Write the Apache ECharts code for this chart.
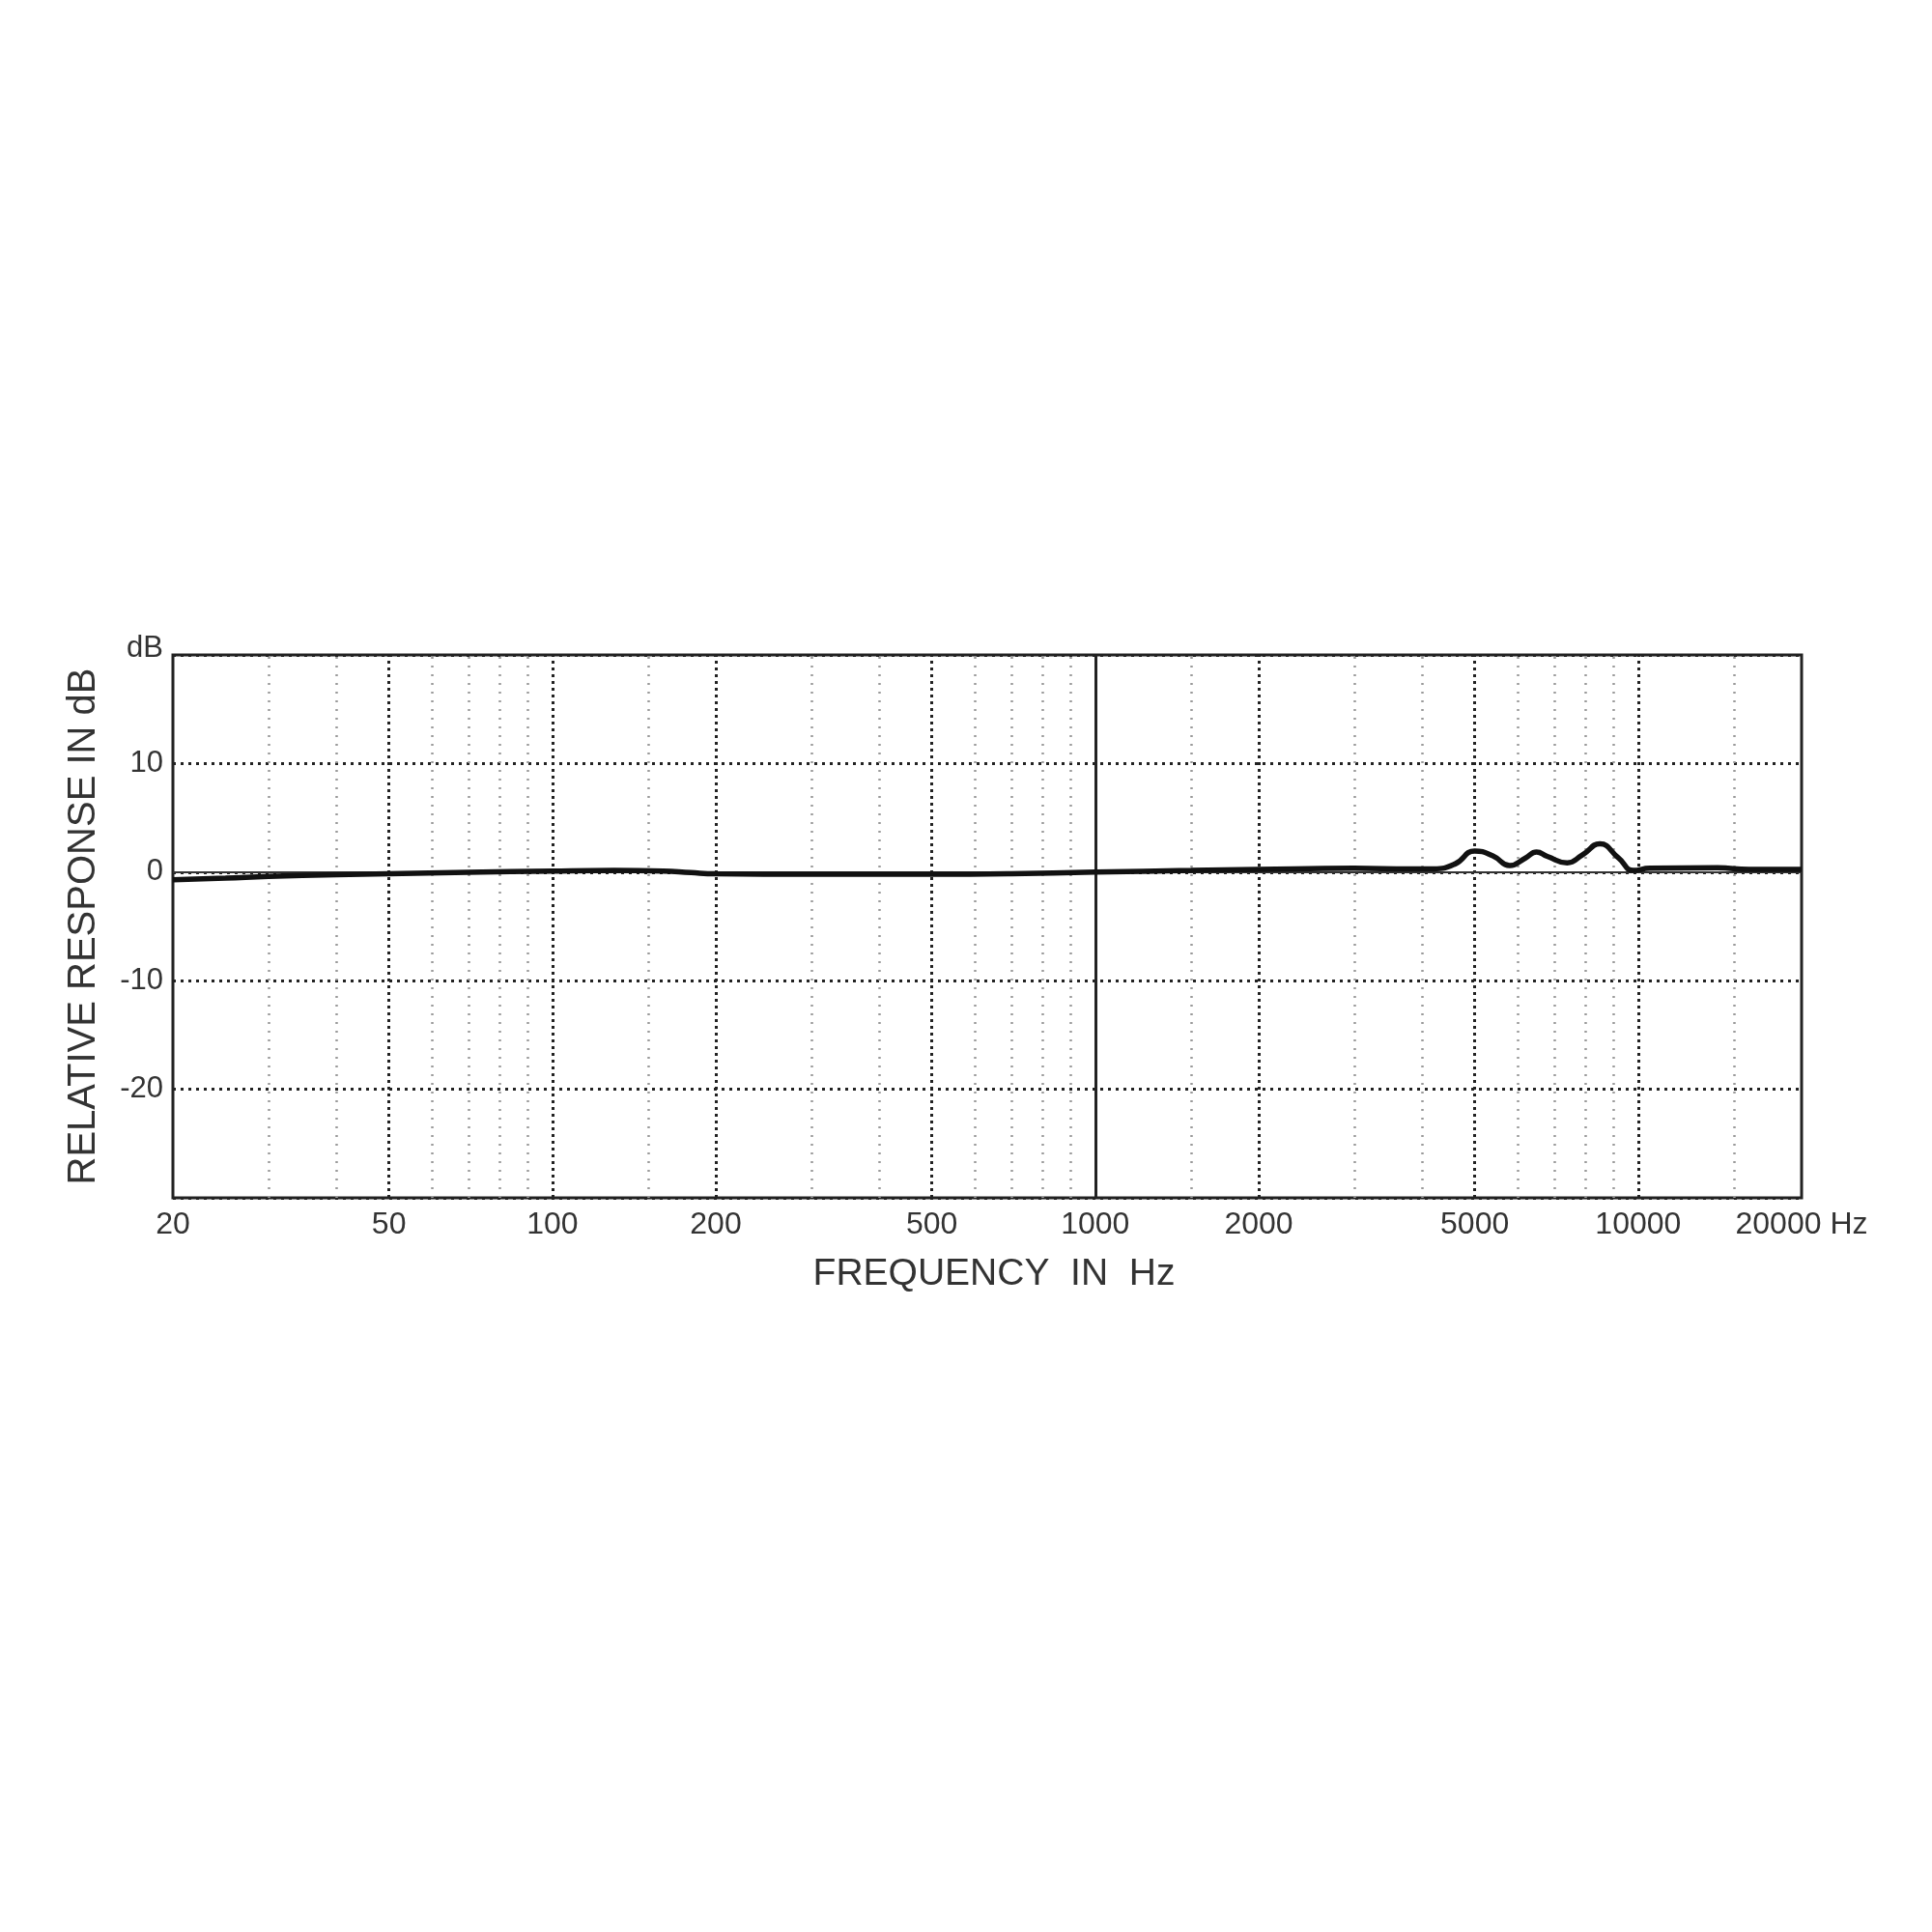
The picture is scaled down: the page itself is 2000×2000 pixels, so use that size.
<!DOCTYPE html>
<html>
<head>
<meta charset="utf-8">
<script src="https://cdn.jsdelivr.net/npm/echarts@6/dist/echarts.min.js"></script>
<style>
  html, body { margin: 0; padding: 0; background: #fff; }
  #chart { width: 2000px; height: 2000px; }
</style>
</head>
<body>
<div id="chart"></div>
<script>
// frequency response
var freqHz = [20, 25, 30, 40, 50, 70, 100, 130, 160, 180, 200, 300, 500, 700, 1000,
    1500, 2000, 3000, 3800, 4200, 4600, 5000, 5400, 5800, 6200, 6500, 6800, 7400,
    7900, 8500, 9200, 9800, 10500, 14000, 16000, 20000];
var responseDb = [-0.7, -0.55, -0.4, -0.25, -0.15, -0.02, 0.1, 0.15, 0.1, -0.05, -0.15, -0.2, -0.2, -0.15, 0,
    0.15, 0.25, 0.35, 0.3, 0.3, 0.75, 1.95, 1.5, 0.6, 1.3, 1.85, 1.45, 0.85,
    1.6, 2.6, 1.3, 0.15, 0.35, 0.4, 0.25, 0.25];

var freqLabels = [20, 50, 100, 200, 500, 1000, 2000, 5000, 10000, 20000];
var majorGrid = [50, 100, 200, 500, 2000, 5000, 10000];
var minorGrid = [30, 40, 60, 70, 80, 90, 150, 300, 400, 600, 700, 800, 900,
    1500, 3000, 4000, 6000, 7000, 8000, 9000, 15000];
var solidGrid = [1000];

var font = 'Liberation Sans';

var gridLines = [];
minorGrid.forEach(function (f) {
    gridLines.push({ xAxis: f, lineStyle: { color: '#9a9a9a', width: 2.5, type: [2, 7] } });
});
majorGrid.forEach(function (f) {
    gridLines.push({ xAxis: f, lineStyle: { color: '#222', width: 3, type: [3, 4] } });
});
solidGrid.forEach(function (f) {
    gridLines.push({ xAxis: f, lineStyle: { color: '#222', width: 3, type: 'solid' } });
});
gridLines.push({ yAxis: 0, lineStyle: { color: '#333', width: 2, type: 'solid' } });

var chart = echarts.init(document.getElementById('chart'));
chart.setOption({
    backgroundColor: '#fff',
    animation: false,
    grid: {
        left: 179, right: 135, top: 678, bottom: 760,
        show: true, borderColor: '#222', borderWidth: 3, backgroundColor: 'transparent'
    },
    xAxis: {
        type: 'log', logBase: 10, min: 20, max: 20000,
        name: 'FREQUENCY  IN  Hz', nameLocation: 'middle', nameGap: 60,
        nameTextStyle: { fontFamily: font, fontSize: 39, color: '#333', padding: [0, 0, 0, 14] },
        axisLine: { show: false },
        axisTick: { show: false },
        splitLine: { show: false },
        axisLabel: {
            customValues: freqLabels,
            margin: 12,
            fontFamily: font, fontSize: 32, color: '#333',
            formatter: function (v) { return v === 20000 ? '20000 Hz' : String(v); }
        }
    },
    yAxis: {
        type: 'value', min: -30, max: 20, interval: 10,
        name: 'RELATIVE RESPONSE IN dB', nameLocation: 'middle', nameGap: 72,
        nameTextStyle: { fontFamily: font, fontSize: 40, color: '#333' },
        axisLine: { show: false },
        axisTick: { show: false },
        splitLine: { show: true, lineStyle: { color: '#222', width: 3, type: [3, 5] } },
        axisLabel: {
            margin: 10,
            fontFamily: font, fontSize: 31, color: '#333',
            formatter: function (v) {
                if (v === 20) return '{u|dB}';
                if (v === -30) return '';
                return String(v);
            },
            rich: { u: { fontFamily: font, fontSize: 31, color: '#333', padding: [0, 0, 14, 0] } }
        }
    },
    series: [{
        type: 'line',
        data: freqHz.map(function (f, i) { return [f, responseDb[i]]; }),
        smooth: 0.5,
        symbol: 'none',
        lineStyle: { color: '#111', width: 5.5 },
        z: 5,
        markLine: {
            silent: true,
            symbol: 'none',
            label: { show: false },
            z: 1,
            data: gridLines
        }
    }]
});
</script>
</body>
</html>
